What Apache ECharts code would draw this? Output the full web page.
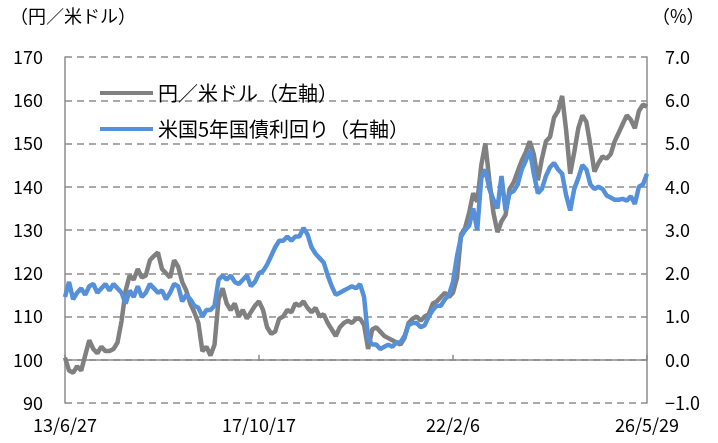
<!DOCTYPE html>
<html>
<head>
<meta charset="utf-8">
<script src="https://cdn.jsdelivr.net/npm/echarts@6/dist/echarts.min.js"></script>
<style>
  html, body { margin: 0; padding: 0; background: #fff; }
  #chart { width: 718px; height: 443px; }
</style>
</head>
<body>
<div id="chart"></div>
<script>
// 目盛りラベル（13/6/27 〜 26/5/29 を3等分）
const tickLabels = ["13/6/27", "17/10/17", "22/2/6", "26/5/29"];

// 円／米ドル（左軸）— ほぼ月次で読み取り
const usdJpy = [
  100.5, 97.5, 97.0, 98.5, 97.5, 101.0, 104.5, 102.5, 101.5, 103.0,
  102.0, 102.0, 102.5, 104.0, 109.0, 116.0, 119.5, 118.5, 121.0, 119.0,
  119.5, 123.0, 124.0, 124.8, 121.0, 120.0, 119.0, 123.0, 121.5, 118.0,
  116.0, 113.0, 111.0, 108.5, 102.0, 103.0, 101.0, 103.5, 114.0, 116.5,
  113.0, 111.5, 113.0, 110.0, 111.5, 109.5, 111.0, 112.5, 113.5, 111.5,
  107.5, 106.0, 106.5, 109.5, 110.0, 111.5, 111.0, 113.0, 112.5, 113.5,
  112.0, 111.0, 112.0, 110.0, 110.5, 108.5, 107.0, 105.5, 107.5, 108.5,
  109.0, 108.5, 109.5, 109.5, 108.0, 102.5, 107.0, 107.5, 106.5, 105.5,
  105.0, 104.5, 104.0, 103.5, 105.0, 108.5, 109.5, 110.0, 109.0, 110.0,
  110.5, 113.0, 113.5, 114.5, 115.5, 114.5, 115.5, 119.0, 129.0, 130.5,
  134.0, 138.5, 136.5, 145.0, 150.0, 141.5, 134.0, 129.5, 132.0, 133.5,
  139.5, 141.0, 143.5, 146.0, 148.0, 150.5, 147.5, 141.5, 146.5, 150.5,
  151.5, 156.0, 157.5, 161.0, 153.0, 143.0, 148.0, 153.5, 156.5, 155.0,
  149.5, 143.5, 145.5, 147.0, 146.5, 147.5, 150.5, 152.5, 154.5, 156.5,
  155.5, 153.5, 157.5, 159.0, 158.5
];

// 米国5年国債利回り（右軸, %）
const ust5y = [
  1.45, 1.80, 1.40, 1.55, 1.65, 1.50, 1.70, 1.75, 1.55, 1.65,
  1.75, 1.60, 1.75, 1.65, 1.55, 1.30, 1.60, 1.45, 1.70, 1.45,
  1.55, 1.75, 1.65, 1.55, 1.60, 1.40, 1.55, 1.75, 1.70, 1.35,
  1.50, 1.40, 1.25, 1.20, 1.00, 1.15, 1.15, 1.25, 1.85, 1.95,
  1.85, 1.95, 1.80, 1.75, 1.85, 1.95, 1.70, 1.80, 2.00, 2.05,
  2.20, 2.40, 2.60, 2.75, 2.75, 2.85, 2.75, 2.85, 2.85, 3.05,
  2.90, 2.60, 2.45, 2.35, 2.25, 1.95, 1.70, 1.50, 1.55, 1.60,
  1.65, 1.70, 1.65, 1.75, 1.45, 0.50, 0.35, 0.35, 0.25, 0.30,
  0.35, 0.30, 0.40, 0.40, 0.55, 0.80, 0.85, 0.85, 0.75, 0.80,
  1.00, 1.15, 1.25, 1.25, 1.40, 1.50, 1.80, 2.40, 2.85, 3.00,
  3.10, 3.50, 3.00, 4.20, 4.40, 3.95, 3.70, 3.50, 4.25, 3.45,
  3.85, 3.90, 4.05, 4.40, 4.60, 4.85, 4.30, 3.85, 3.95, 4.25,
  4.45, 4.55, 4.40, 4.30, 3.80, 3.45, 3.95, 4.20, 4.50, 4.40,
  4.05, 3.95, 4.00, 3.95, 3.80, 3.75, 3.70, 3.70, 3.72, 3.68,
  3.78, 3.60, 4.00, 4.05, 4.30
];

const step = (usdJpy.length - 1) / (tickLabels.length - 1); // 48
const categories = usdJpy.map((_, i) => String(i));

const fontFamily = "'Noto Sans CJK JP', 'Noto Sans', sans-serif";
const axisColor = "#8c8c8c";
const grayColor = "#808080";
const blueColor = "#5590d8";

const chart = echarts.init(document.getElementById("chart"), null, {
  renderer: "canvas",
});

chart.setOption({
  animation: false,
  backgroundColor: "#fff",
  textStyle: { fontFamily: fontFamily },
  graphic: [
    {
      type: "text",
      left: 10,
      top: 7,
      style: { text: "（円／米ドル）", font: "18px " + fontFamily, fill: "#000" },
    },
    {
      type: "text",
      left: 652,
      top: 7,
      style: { text: "（%）", font: "18px " + fontFamily, fill: "#000" },
    },
  ],
  legend: {
    orient: "vertical",
    left: 95,
    top: 77,
    itemGap: 14,
    itemWidth: 53,
    itemHeight: 4,
    icon: "rect",
    textStyle: { fontSize: 20, color: "#000", lineHeight: 22 },
    data: [
      { name: "円／米ドル（左軸）", itemStyle: { color: grayColor } },
      { name: "米国5年国債利回り（右軸）", itemStyle: { color: blueColor } },
    ],
  },
  grid: { left: 65, right: 71, top: 57, bottom: 40 },
  xAxis: {
    type: "category",
    data: categories,
    boundaryGap: false,
    axisLine: { lineStyle: { color: axisColor, width: 1.5 } },
    axisTick: {
      inside: true,
      length: 5,
      interval: step - 1,
      lineStyle: { color: axisColor, width: 1.5 },
    },
    axisLabel: {
      interval: step - 1,
      margin: 13,
      fontSize: 18,
      color: "#000",
      formatter: (v, idx) => tickLabels[Math.round(idx / step)],
    },
    splitLine: { show: false },
  },
  yAxis: [
    {
      type: "value",
      min: 90,
      max: 170,
      interval: 10,
      axisLine: { show: true, lineStyle: { color: axisColor, width: 1.5 } },
      axisTick: { show: false },
      axisLabel: { fontSize: 18, color: "#000", margin: 22 },
      splitLine: {
        lineStyle: { color: axisColor, width: 1.5, type: [7, 5] },
      },
    },
    {
      type: "value",
      min: -1,
      max: 7,
      interval: 1,
      axisLine: { show: true, lineStyle: { color: axisColor, width: 1.5 } },
      axisTick: { show: false },
      axisLabel: {
        fontSize: 18,
        color: "#000",
        margin: 18,
        formatter: (v) => v.toFixed(1).replace("-", "−"),
      },
      splitLine: { show: false },
    },
  ],
  series: [
    {
      name: "円／米ドル（左軸）",
      type: "line",
      yAxisIndex: 0,
      data: usdJpy,
      symbol: "none",
      lineStyle: { color: grayColor, width: 4.5 },
      itemStyle: { color: grayColor },
    },
    {
      name: "米国5年国債利回り（右軸）",
      type: "line",
      yAxisIndex: 1,
      data: ust5y,
      symbol: "none",
      lineStyle: { color: blueColor, width: 4.5 },
      itemStyle: { color: blueColor },
    },
  ],
});
</script>
</body>
</html>
